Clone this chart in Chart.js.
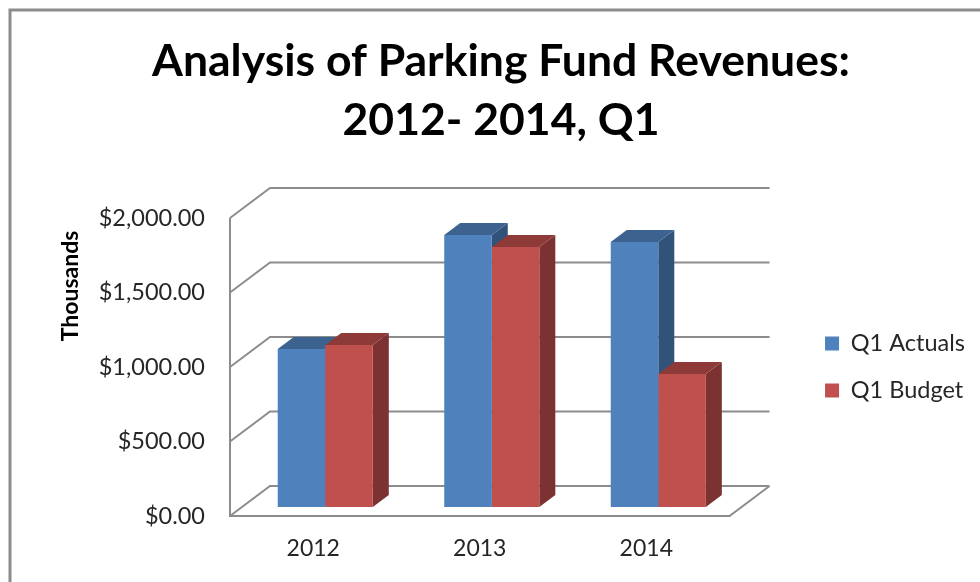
<!DOCTYPE html>
<html>
<head>
<meta charset="utf-8">
<title>Parking Fund Revenues</title>
<script src="https://cdn.jsdelivr.net/npm/chart.js@4"></script>
<style>
  html, body { margin: 0; background: #fff; }
  canvas { display: block; }
</style>
</head>
<body>
<canvas id="chart" width="980" height="582"></canvas>
<script>
// Data
const categories = ['2012', '2013', '2014'];
const actuals = [1060, 1826, 1779];
const budget = [1087, 1745, 893];
const yTickValues = [0, 500, 1000, 1500, 2000];
const yTickLabels = ['$0.00', '$500.00', '$1,000.00', '$1,500.00', '$2,000.00'];
const yAxisTitle = 'Thousands';

const wallColor = '#8c8c8c';
const textColor = '#262626';
const font = 'Lato, Carlito, sans-serif';

// faux 3D: bars sit inside the floor, walls sit behind them
const WALL_DX = 40, WALL_DY = -30;
const BAR_DX = 12, BAR_DY = -9;
const DEPTH_DX = 16, DEPTH_DY = -12;

function poly(ctx, pts, fill) {
  ctx.beginPath();
  pts.forEach((p, i) => i ? ctx.lineTo(p[0], p[1]) : ctx.moveTo(p[0], p[1]));
  ctx.closePath();
  ctx.fillStyle = fill;
  ctx.fill();
}

const frame3d = {
  id: 'frame3d',
  beforeDraw(chart) {
    // outer frame, only left and top are inside the picture
    const ctx = chart.ctx;
    ctx.save();
    ctx.strokeStyle = wallColor;
    ctx.lineWidth = 3;
    ctx.beginPath();
    ctx.moveTo(10, 582);
    ctx.lineTo(10, 10);
    ctx.lineTo(980, 10);
    ctx.stroke();
    ctx.restore();
  },
  beforeDatasetsDraw(chart) {
    const ctx = chart.ctx;
    const { left, right, top, bottom } = chart.chartArea;
    const y = chart.scales.y;

    ctx.save();
    ctx.strokeStyle = wallColor;
    ctx.lineWidth = 2;
    ctx.beginPath();
    // side wall
    ctx.moveTo(left, top);
    ctx.lineTo(left, bottom);
    // floor front edge and right edge
    ctx.lineTo(right, bottom);
    ctx.lineTo(right + WALL_DX, bottom + WALL_DY);
    // gridlines go across the back wall and down the side wall
    yTickValues.forEach(v => {
      const py = y.getPixelForValue(v);
      ctx.moveTo(left, py);
      ctx.lineTo(left + WALL_DX, py + WALL_DY);
      ctx.lineTo(right + WALL_DX, py + WALL_DY);
    });
    ctx.stroke();
    ctx.restore();

    // side and top faces of the bars
    const faces = [
      { side: '#31537a', top: '#3c6290' },
      { side: '#7b3230', top: '#8e3a38' }
    ];
    ctx.save();
    ctx.translate(BAR_DX, BAR_DY);
    chart.data.datasets.forEach((ds, d) => {
      chart.getDatasetMeta(d).data.forEach(bar => {
        const l = bar.x - bar.width / 2, r = bar.x + bar.width / 2;
        poly(ctx, [[r, bar.y], [r + DEPTH_DX, bar.y + DEPTH_DY],
          [r + DEPTH_DX, bar.base + DEPTH_DY], [r, bar.base]], faces[d].side);
        poly(ctx, [[l, bar.y], [l + DEPTH_DX, bar.y + DEPTH_DY],
          [r + DEPTH_DX, bar.y + DEPTH_DY], [r, bar.y]], faces[d].top);
      });
    });
    ctx.restore();
  },
  beforeDatasetDraw(chart) {
    chart.ctx.save();
    chart.ctx.translate(BAR_DX, BAR_DY);
  },
  afterDatasetDraw(chart) {
    chart.ctx.restore();
  },
  afterDraw(chart) {
    // axis title sits above the middle of the axis, the scale title can't do that
    const ctx = chart.ctx;
    ctx.save();
    ctx.translate(71, 286);
    ctx.rotate(-Math.PI / 2);
    ctx.font = 'bold 23px ' + font;
    ctx.fillStyle = '#000';
    ctx.textAlign = 'center';
    ctx.textBaseline = 'middle';
    ctx.fillText(yAxisTitle, 0, 0);
    ctx.restore();
  }
};

new Chart(document.getElementById('chart'), {
  type: 'bar',
  plugins: [frame3d],
  data: {
    labels: categories,
    datasets: [
      { label: 'Q1 Actuals', data: actuals, backgroundColor: '#4f81bd' },
      { label: 'Q1 Budget', data: budget, backgroundColor: '#c0504d' }
    ]
  },
  options: {
    responsive: false,
    animation: false,
    // left minus right puts the title centre at x=501
    layout: { padding: { left: 27, right: 5, top: 0, bottom: 0 } },
    datasets: { bar: { barPercentage: 1, categoryPercentage: 0.571 } },
    plugins: {
      tooltip: { enabled: false },
      title: {
        display: true,
        text: ['Analysis of Parking Fund Revenues:', '2012- 2014, Q1'],
        color: '#000',
        font: { family: font, size: 44.5, weight: 'bold', lineHeight: 1.326 },
        padding: { top: 32.5, bottom: 67.5 }
      },
      legend: {
        position: 'right',
        align: 'center',
        fullSize: false,
        maxWidth: 300,
        labels: {
          boxWidth: 14,
          boxHeight: 14,
          padding: 23.5,
          color: textColor,
          font: { family: font, size: 23.5 }
        }
      }
    },
    scales: {
      x: {
        grid: { display: false, drawTicks: false },
        border: { display: false },
        ticks: { padding: 19, color: textColor, font: { family: font, size: 23 } },
        afterFit: s => { s.height = 66; }
      },
      y: {
        min: 0,
        max: 2000,
        afterBuildTicks: s => { s.ticks = yTickValues.map(value => ({ value })); },
        grid: { display: false, drawTicks: false },
        border: { display: false },
        ticks: {
          padding: 25,
          color: textColor,
          font: { family: font, size: 23.5 },
          callback: (v, i) => yTickLabels[i]
        },
        afterFit: s => { s.width = 203; }
      },
      // keeps the legend clear of the back wall
      spacer: {
        type: 'linear',
        position: 'right',
        display: true,
        grid: { display: false, drawTicks: false },
        border: { display: false },
        ticks: { display: false },
        afterFit: s => { s.width = 72; }
      }
    }
  }
});
</script>
</body>
</html>
